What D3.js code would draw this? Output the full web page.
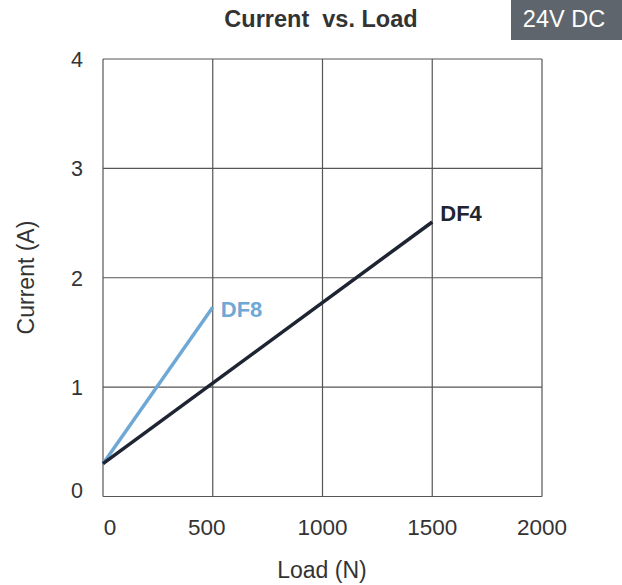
<!DOCTYPE html>
<html><head><meta charset="utf-8">
<script src="https://cdn.jsdelivr.net/npm/d3@7"></script>
<style>body{margin:0;background:#fff}svg{display:block;font-family:"Liberation Sans",Arial,sans-serif}</style>
</head><body><svg id="c" width="622" height="585"></svg>
<script>
const xTicks = [0, 500, 1000, 1500, 2000];
const yTicks = [0, 1, 2, 3, 4];
const seriesNames = ["DF8", "DF4"];
const df8Load = [0, 500];
const df8Current = [0.3, 1.73];
const df4Load = [0, 1500];
const df4Current = [0.3, 2.51];
const seriesColors = ["#6fa8d4", "#1e2432"];

const svg = d3.select("#c");
const m = {l:103, r:542, t:59, b:496.5};
const x = d3.scaleLinear().domain([0,2000]).range([m.l, m.r]);
const y = d3.scaleLinear().domain([0,4]).range([m.b, m.t]);

// grid
const g = svg.append("g");
g.selectAll(".vx").data(xTicks).join("line")
  .attr("x1", d=>x(d)).attr("x2", d=>x(d)).attr("y1", m.t).attr("y2", m.b)
  .attr("stroke", "#555").attr("stroke-width", 1.2);
g.selectAll(".hy").data(yTicks).join("line")
  .attr("y1", d=>y(d)).attr("y2", d=>y(d)).attr("x1", m.l).attr("x2", m.r)
  .attr("stroke", "#555").attr("stroke-width", 1.2);

// tick labels
svg.append("g").selectAll("text").data(xTicks).join("text")
  .attr("x", d=>x(d) + (d===0?7:(d===500?-6:0))).attr("y", 535)
  .attr("text-anchor","middle").attr("font-size", 22.5).attr("fill","#333").text(d=>d);
svg.append("g").selectAll("text").data(yTicks).join("text")
  .attr("x", 83).attr("y", d=>y(d) + (d===0? 1.5 : 8))
  .attr("text-anchor","end").attr("font-size", 21.5).attr("fill","#333").text(d=>d);

// lines
const series = [
  {name: seriesNames[0], pts: df8Load.map((v,i)=>[v, df8Current[i]]), color: seriesColors[0]},
  {name: seriesNames[1], pts: df4Load.map((v,i)=>[v, df4Current[i]]), color: seriesColors[1]}
];
const line = d3.line().x(d=>x(d[0])).y(d=>y(d[1]));
svg.append("g").selectAll("path").data(series).join("path")
  .attr("d", d=>line(d.pts)).attr("fill","none").attr("stroke", d=>d.color)
  .attr("stroke-width", 3.5).attr("stroke-linecap","butt");
svg.append("g").selectAll("text").data(series).join("text")
  .attr("x", d=>x(d.pts[d.pts.length-1][0]) + 8)
  .attr("y", d=>y(d.pts[d.pts.length-1][1]) + (d.name==="DF4" ? -1 : 9.5))
  .attr("font-size", 22).attr("font-weight","bold").attr("fill", d=>d.color).text(d=>d.name);

// title
svg.append("text").attr("x", 321).attr("y", 27.3).attr("text-anchor","middle")
  .attr("font-size", 23.5).attr("font-weight","bold").attr("fill","#333")
  .style("white-space","pre")
  .text("Current  vs. Load");
// badge
svg.append("rect").attr("x", 511).attr("y", 0).attr("width", 111).attr("height", 40).attr("fill","#5e656c");
svg.append("text").attr("x", 564).attr("y", 26.7).attr("text-anchor","middle")
  .attr("font-size", 23.5).attr("fill","#fff").text("24V DC");
// axis titles
svg.append("text").attr("x", 322).attr("y", 578).attr("text-anchor","middle")
  .attr("font-size", 23).attr("fill","#333").text("Load (N)");
svg.append("text").attr("transform","translate(33.5,277.5) rotate(-90)").attr("text-anchor","middle")
  .attr("font-size", 23).attr("fill","#333").text("Current (A)");
</script></body></html>
